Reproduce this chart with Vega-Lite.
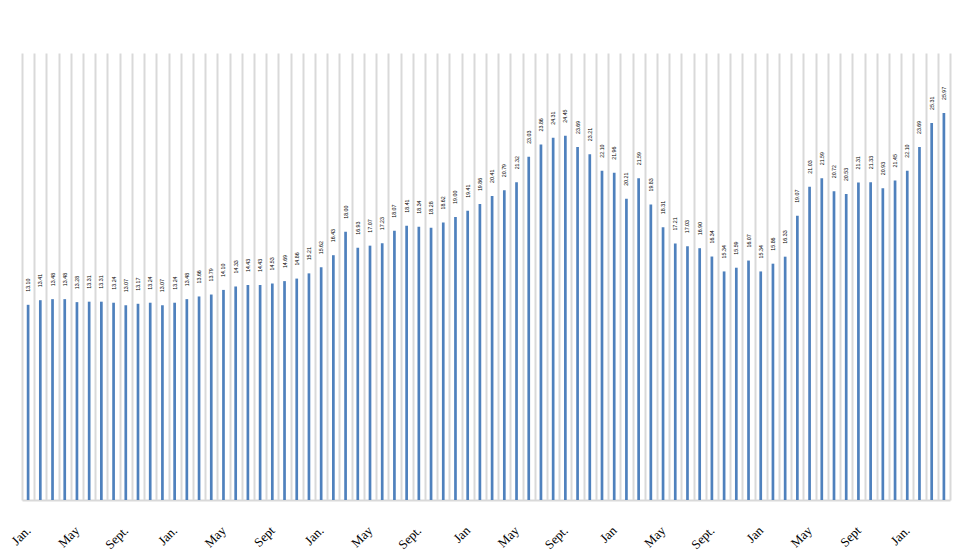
{
  "$schema": "https://vega.github.io/schema/vega-lite/v6.json",
  "autosize": {"type": "none"},
  "width": 928,
  "height": 447,
  "padding": {"left": 22, "top": 53, "right": 27, "bottom": 60},
  "background": "white",
  "config": {"view": {"stroke": null}},
  "data": {"values": [
    {"period": "00 Jan.", "v": 13.10},
    {"period": "01 Feb.", "v": 13.41},
    {"period": "02 Mar.", "v": 13.48},
    {"period": "03 Apr.", "v": 13.48},
    {"period": "04 May", "v": 13.28},
    {"period": "05 June", "v": 13.31},
    {"period": "06 July", "v": 13.31},
    {"period": "07 Aug.", "v": 13.24},
    {"period": "08 Sept.", "v": 13.07},
    {"period": "09 Oct.", "v": 13.17},
    {"period": "10 Nov.", "v": 13.24},
    {"period": "11 Dec.", "v": 13.07},
    {"period": "12 Jan.", "v": 13.24},
    {"period": "13 Feb.", "v": 13.48},
    {"period": "14 Mar.", "v": 13.66},
    {"period": "15 Apr.", "v": 13.79},
    {"period": "16 May", "v": 14.10},
    {"period": "17 June", "v": 14.33},
    {"period": "18 July", "v": 14.43},
    {"period": "19 Aug.", "v": 14.43},
    {"period": "20 Sept", "v": 14.53},
    {"period": "21 Oct.", "v": 14.69},
    {"period": "22 Nov.", "v": 14.86},
    {"period": "23 Dec.", "v": 15.21},
    {"period": "24 Jan.", "v": 15.62},
    {"period": "25 Feb.", "v": 16.43},
    {"period": "26 Mar.", "v": 18.00},
    {"period": "27 Apr.", "v": 16.93},
    {"period": "28 May", "v": 17.07},
    {"period": "29 June", "v": 17.23},
    {"period": "30 July", "v": 18.07},
    {"period": "31 Aug.", "v": 18.41},
    {"period": "32 Sept.", "v": 18.34},
    {"period": "33 Oct.", "v": 18.28},
    {"period": "34 Nov.", "v": 18.62},
    {"period": "35 Dec.", "v": 19.00},
    {"period": "36 Jan", "v": 19.41},
    {"period": "37 Feb", "v": 19.86},
    {"period": "38 Mar", "v": 20.41},
    {"period": "39 Apr", "v": 20.79},
    {"period": "40 May", "v": 21.32},
    {"period": "41 June", "v": 23.03},
    {"period": "42 July", "v": 23.86},
    {"period": "43 Aug.", "v": 24.31},
    {"period": "44 Sept.", "v": 24.45},
    {"period": "45 Oct", "v": 23.69},
    {"period": "46 Nov", "v": 23.21},
    {"period": "47 Dec", "v": 22.10},
    {"period": "48 Jan", "v": 21.96},
    {"period": "49 Feb", "v": 20.21},
    {"period": "50 Mar", "v": 21.59},
    {"period": "51 Apr", "v": 19.83},
    {"period": "52 May", "v": 18.31},
    {"period": "53 June", "v": 17.21},
    {"period": "54 July", "v": 17.03},
    {"period": "55 Aug.", "v": 16.90},
    {"period": "56 Sept.", "v": 16.34},
    {"period": "57 Oct", "v": 15.34},
    {"period": "58 Nov", "v": 15.59},
    {"period": "59 Dec", "v": 16.07},
    {"period": "60 Jan", "v": 15.34},
    {"period": "61 Feb", "v": 15.86},
    {"period": "62 Mar", "v": 16.33},
    {"period": "63 Apr", "v": 19.07},
    {"period": "64 May", "v": 21.03},
    {"period": "65 June", "v": 21.59},
    {"period": "66 July", "v": 20.72},
    {"period": "67 Aug.", "v": 20.53},
    {"period": "68 Sept", "v": 21.31},
    {"period": "69 Oct", "v": 21.33},
    {"period": "70 Nov", "v": 20.93},
    {"period": "71 Dec", "v": 21.45},
    {"period": "72 Jan.", "v": 22.10},
    {"period": "73 Feb.", "v": 23.69},
    {"period": "74 Mar.", "v": 25.31},
    {"period": "75 Apr.", "v": 25.97}
  ]},
  "encoding": {
    "x": {
      "field": "period",
      "type": "ordinal",
      "sort": null,
      "scale": {"paddingInner": 0, "paddingOuter": 0},
      "axis": {
        "title": null,
        "tickBand": "extent",
        "grid": true,
        "gridColor": "#d9d9d9",
        "gridWidth": 2,
        "ticks": false,
        "domainColor": "#d9d9d9",
        "domainWidth": 2,
        "labelExpr": "isString(datum.value) ? (toNumber(slice(datum.value, 0, 2)) % 4 == 0 ? slice(datum.value, 3) : '') : ''",
        "labelAngle": -45,
        "labelAlign": "right",
        "labelBaseline": "middle",
        "labelPadding": 28,
        "labelFont": "Liberation Serif",
        "labelFontSize": 13,
        "labelColor": "#000000",
        "labelOverlap": false
      }
    },
    "y": {
      "field": "v",
      "type": "quantitative",
      "scale": {"domain": [0, 30], "nice": false, "zero": true},
      "axis": null
    }
  },
  "layer": [
    {"mark": {"type": "bar", "size": 2.7, "color": "#4F81BD"}},
    {
      "mark": {"type": "text", "angle": -90, "align": "left", "baseline": "middle", "dx": 13, "font": "Liberation Sans", "fontSize": 5.3, "color": "#000000"},
      "encoding": {"text": {"field": "v", "type": "quantitative", "format": ".2f"}}
    }
  ]
}
